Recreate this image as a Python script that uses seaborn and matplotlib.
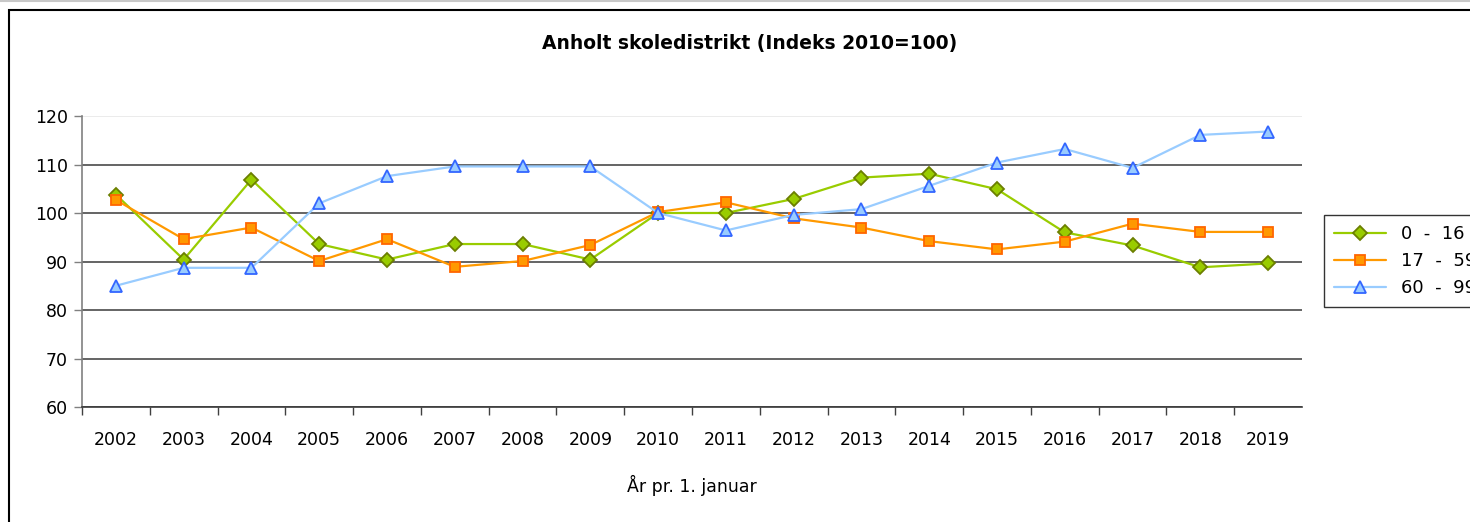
import numpy as np
import pandas as pd
import matplotlib
matplotlib.use("Agg")
import matplotlib.pyplot as plt
import seaborn as sns
from matplotlib.patches import Rectangle
from matplotlib.lines import Line2D

years = list(range(2002, 2020))
age_0_16 = [103.8, 90.4, 106.9, 93.6, 90.4, 93.6, 93.6, 90.4, 100.0,
            100.0, 102.9, 107.3, 108.1, 104.9, 96.0, 93.3, 88.8, 89.6]
age_17_59 = [102.7, 94.6, 97.0, 90.1, 94.6, 88.9, 90.1, 93.4, 100.2,
             102.2, 98.9, 97.0, 94.2, 92.5, 94.1, 97.8, 96.1, 96.1]
age_60_99 = [85.0, 88.7, 88.7, 102.0, 107.6, 109.6, 109.6, 109.6, 100.0,
             96.4, 99.6, 100.8, 105.6, 110.4, 113.2, 109.3, 116.1, 116.8]
labels = ["0  -  16", "17  -  59", "60  -  99"]

df = pd.DataFrame({"year": years, "a": age_0_16, "b": age_17_59, "c": age_60_99})

sns.set_theme(style="white")
plt.rcParams['font.family'] = ['DejaVu Sans']
plt.rcParams['text.color'] = 'black'
plt.rcParams['axes.labelcolor'] = 'black'
plt.rcParams['xtick.color'] = 'black'
plt.rcParams['ytick.color'] = 'black'

fig = plt.figure(figsize=(14.7, 5.22), dpi=100)
ax = fig.add_axes([82/1470, 115/522, 1220/1470, 291/522])

styles = [
    ("a", "#99cc00", "D", "#99cc00", "#6b7f00", 7),
    ("b", "#ff9900", "s", "#ff9900", "#ff6600", 7.5),
    ("c", "#99ccff", "^", "#99ccff", "#3366ff", 8.5),
]
handles = []
for (col, lc, mk, fc, ec, ms), lab in zip(styles, labels):
    sns.lineplot(data=df, x="year", y=col, ax=ax, color=lc, marker=mk,
                 markersize=ms, markerfacecolor=fc, markeredgecolor=ec,
                 markeredgewidth=1.3, linewidth=1.6, sort=False)
    handles.append(Line2D([], [], color=lc, marker=mk, markersize=ms,
                          markerfacecolor=fc, markeredgecolor=ec,
                          markeredgewidth=1.3, linewidth=1.6, label=lab))

ax.set_xlim(years[0] - 0.5, years[-1] + 0.5)
ax.set_ylim(60, 120)
ax.set_yticks(range(60, 121, 10))
ax.set_xticks(years)
ax.set_xticks([y + 0.5 for y in years[:-1]] + [years[0] - 0.5], minor=True)
ax.tick_params(axis="x", which="major", length=0, pad=17, labelsize=12.5, labelcolor="black")
ax.tick_params(axis="x", which="minor", length=6, width=1, color="#404040", direction="out", bottom=True)
ax.tick_params(axis="y", length=6, width=1, color="#808080", direction="out", left=True,
               labelsize=12.5, pad=4, labelcolor="black")
ax.set_ylabel("")
ax.set_xlabel("År pr. 1. januar", fontsize=12.5, labelpad=19, color="black")

ax.yaxis.grid(True, color="#3a3a3a", linewidth=1.1)
ax.get_ygridlines()[-1].set_color("#e6e6e6")
ax.set_axisbelow(True)
for s in ["top", "right"]:
    ax.spines[s].set_visible(False)
ax.spines["left"].set_color("#808080")
ax.spines["left"].set_linewidth(1.2)
ax.spines["bottom"].set_color("#3a3a3a")
ax.spines["bottom"].set_linewidth(1.2)

fig.text(750/1470, 1 - 44/522, "Anholt skoledistrikt (Indeks 2010=100)",
         ha="center", va="center", fontsize=13.5, fontweight="bold", color="black")

leg = fig.legend(handles=handles, loc="center left", bbox_to_anchor=(1324/1470, 1 - 261/522),
                 frameon=True, fancybox=False, fontsize=13, handlelength=2.9,
                 handletextpad=0.8, labelspacing=0.5, borderpad=0.55, borderaxespad=0)
leg.get_frame().set_edgecolor("#000000")
leg.get_frame().set_linewidth(1.0)
for t in leg.get_texts():
    t.set_color("black")

fig.patches.append(Rectangle((9/1470, -0.1), 1.2, 1 - 10/522 + 0.1, transform=fig.transFigure,
                             fill=False, edgecolor="#000000", linewidth=1.5))
fig.lines.append(Line2D([0, 1], [1 - 1/522, 1 - 1/522], transform=fig.transFigure,
                        color="#c8c8c8", linewidth=1.5))

fig.savefig("out.png", dpi=100)
